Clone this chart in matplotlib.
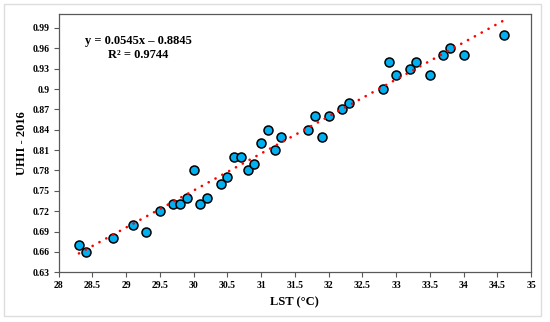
import matplotlib
matplotlib.use("Agg")
import matplotlib.pyplot as plt
from matplotlib.patches import Rectangle
import numpy as np

lst = [28.3, 28.4, 28.8, 29.1, 29.3, 29.5, 29.7, 29.8, 29.9, 30.0, 30.1, 30.2,
       30.4, 30.5, 30.6, 30.7, 30.8, 30.9, 31.0, 31.1, 31.2, 31.3, 31.7, 31.8,
       31.9, 32.0, 32.2, 32.3, 32.8, 32.9, 33.0, 33.2, 33.3, 33.5, 33.7, 33.8,
       34.0, 34.6]
uhii = [0.67, 0.66, 0.68, 0.70, 0.69, 0.72, 0.73, 0.73, 0.74, 0.78, 0.73, 0.74,
        0.76, 0.77, 0.80, 0.80, 0.78, 0.79, 0.82, 0.84, 0.81, 0.83, 0.84, 0.86,
        0.83, 0.86, 0.87, 0.88, 0.90, 0.94, 0.92, 0.93, 0.94, 0.92, 0.95, 0.96,
        0.95, 0.98]
slope = 0.0545
intercept = -0.8845
r2 = 0.9744
xticks = [28, 28.5, 29, 29.5, 30, 30.5, 31, 31.5, 32, 32.5, 33, 33.5, 34, 34.5, 35]
xticklabels = ["28", "28.5", "29", "29.5", "30", "30.5", "31", "31.5", "32", "32.5",
               "33", "33.5", "34", "34.5", "35"]
yticks = [0.63, 0.66, 0.69, 0.72, 0.75, 0.78, 0.81, 0.84, 0.87, 0.9, 0.93, 0.96, 0.99]
yticklabels = ["0.63", "0.66", "0.69", "0.72", "0.75", "0.78", "0.81", "0.84",
               "0.87", "0.9", "0.93", "0.96", "0.99"]

plt.rcParams['font.family'] = ['Liberation Serif', 'DejaVu Serif']

fig = plt.figure(figsize=(5.5, 3.22), dpi=100)
fig.patch.set_facecolor('white')
# outer light border
fig.patches.append(Rectangle((4/550, (322-316)/322), (541-4)/550, (316-4)/322,
                             transform=fig.transFigure, fill=False,
                             edgecolor='#DDDDDD', linewidth=1.0))

ax = fig.add_axes([58.7/550, (322-272.3)/322, (531-58.7)/550, (272.3-14)/322])

xl = np.array([min(lst), max(lst)])
ax.plot(xl, slope*xl + intercept, color='#FF0000', linewidth=1.9,
        linestyle=(0, (0.05, 2.9)), dash_capstyle='round', zorder=3)
ax.scatter(lst, uhii, s=42, facecolor='#00B0F0', edgecolor='black',
           linewidth=1.1, zorder=2)

ax.set_xlim(28, 35)
ax.set_ylim(0.63, 1.0105)
ax.set_xticks(xticks)
ax.set_xticklabels(xticklabels)
ax.set_yticks(yticks)
ax.set_yticklabels(yticklabels)
ax.tick_params(axis='both', direction='out', length=3.5, width=0.8,
               color='#595959', labelsize=7, pad=3)
for lab in ax.get_xticklabels() + ax.get_yticklabels():
    lab.set_fontweight('bold')
for sp in ax.spines.values():
    sp.set_color('#595959')
    sp.set_linewidth(0.9)

ax.set_xlabel('LST (°C)', fontsize=9, fontweight='bold', labelpad=4)
ax.set_ylabel('UHII - 2016', fontsize=9, fontweight='bold', labelpad=3)

ax.text(138.5/550, 1 - 40.7/322, 'y = %.4fx – %.4f' % (slope, -intercept),
        transform=fig.transFigure, ha='center', va='center',
        fontsize=9, fontweight='bold')
ax.text(138.5/550, 1 - 54.7/322, 'R² = %.4f' % r2,
        transform=fig.transFigure, ha='center', va='center',
        fontsize=9, fontweight='bold')

fig.savefig('out.png', dpi=100)
